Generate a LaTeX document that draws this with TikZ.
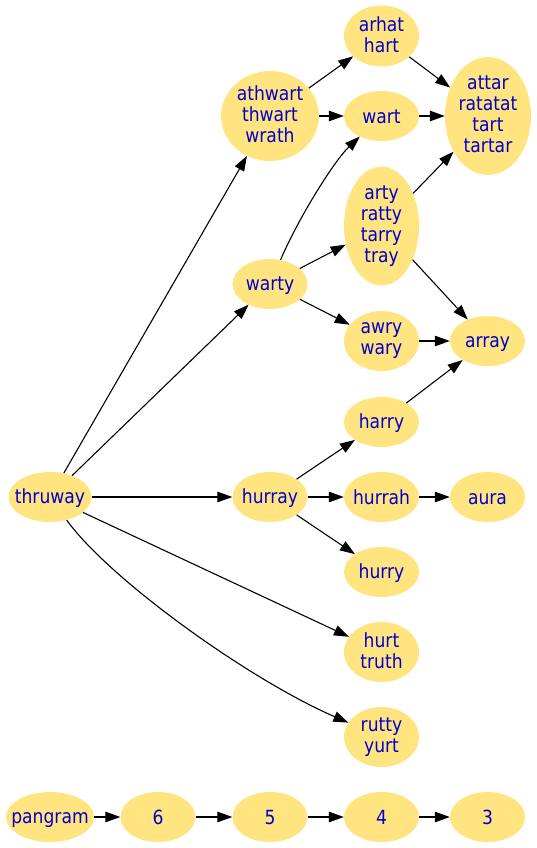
\documentclass[tikz,border=0pt]{standalone}
\usepackage{fontspec}
\setmainfont{DejaVu Sans}[FakeStretch=0.88]
\usetikzlibrary{shapes.geometric,arrows.meta}
\definecolor{wordfill}{RGB}{255,228,128}
\definecolor{wordtext}{RGB}{0,0,204}
\newcommand\wordstrut{\rule[-3.5bp]{0pt}{21bp}}

\begin{document}
\begin{tikzpicture}[
    x=1bp, y=-1bp,
    every node/.style={font=\fontsize{19.5bp}{21bp}\selectfont},
    wordnode/.style={ellipse, fill=wordfill, text=wordtext, minimum width=75bp, minimum height=50bp, inner sep=-12bp, align=center,
        execute at begin node=\wordstrut, execute at end node=\wordstrut},
    linkarrow/.style={-{Triangle[length=15bp,width=10.5bp]}, line width=1.1bp, black},
]
\useasboundingbox (0,0) rectangle (537,848);

% Word nodes, left to right
\node[wordnode, minimum width=83bp] (thruway) at (50,497) {thruway};
\node[wordnode, minimum width=98bp, minimum height=90bp] (athwart) at (270,116) {athwart\\thwart\\wrath};
\node[wordnode] (warty) at (270,284) {warty};
\node[wordnode] (hurray) at (270,497) {hurray};
\node[wordnode, minimum height=61bp] (arhat) at (381.5,36) {arhat\\hart};
\node[wordnode] (wart) at (381.5,116) {wart};
\node[wordnode, minimum height=119bp] (arty) at (381.5,226) {arty\\ratty\\tarry\\tray};
\node[wordnode, minimum height=60bp] (awry) at (381.5,341) {awry\\wary};
\node[wordnode] (harry) at (381.5,422) {harry};
\node[wordnode] (hurrah) at (381.5,497) {hurrah};
\node[wordnode] (hurry) at (381.5,572) {hurry};
\node[wordnode, minimum height=60bp] (hurt) at (381.5,652) {hurt\\truth};
\node[wordnode, minimum height=60bp] (rutty) at (381.5,737) {rutty\\yurt};
\node[wordnode, minimum width=86bp, minimum height=118bp] (attar) at (488,116) {attar\\ratatat\\tart\\tartar};
\node[wordnode] (array) at (487.5,341) {array};
\node[wordnode] (aura) at (487.5,497) {aura};

% Word links
\draw[linkarrow] (thruway) -- (athwart);
\draw[linkarrow] (thruway) -- (warty);
\draw[linkarrow] (thruway) -- (hurray);
\draw[linkarrow] (thruway) -- (hurt);
\draw[linkarrow] (thruway) .. controls (110,580) and (250,680) .. (rutty);
\draw[linkarrow] (athwart) -- (arhat);
\draw[linkarrow] (athwart) -- (wart);
\draw[linkarrow] (warty) .. controls (300,215) and (335,160) .. (wart);
\draw[linkarrow] (warty) -- (arty);
\draw[linkarrow] (warty) -- (awry);
\draw[linkarrow] (hurray) -- (harry);
\draw[linkarrow] (hurray) -- (hurrah);
\draw[linkarrow] (hurray) -- (hurry);
\draw[linkarrow] (arhat) -- (attar);
\draw[linkarrow] (wart) -- (attar);
\draw[linkarrow] (arty) -- (attar);
\draw[linkarrow] (arty) -- (array);
\draw[linkarrow] (awry) -- (array);
\draw[linkarrow] (harry) -- (array);
\draw[linkarrow] (hurrah) -- (aura);

% Length row (bottom)
\node[wordnode, minimum width=88bp] (pangram) at (50,817) {pangram};
\node[wordnode] (six) at (158,817) {6};
\node[wordnode] (five) at (270,817) {5};
\node[wordnode] (four) at (381.5,817) {4};
\node[wordnode] (three) at (487.5,817) {3};
\draw[linkarrow] (pangram) -- (six);
\draw[linkarrow] (six) -- (five);
\draw[linkarrow] (five) -- (four);
\draw[linkarrow] (four) -- (three);
\end{tikzpicture}
\end{document}
